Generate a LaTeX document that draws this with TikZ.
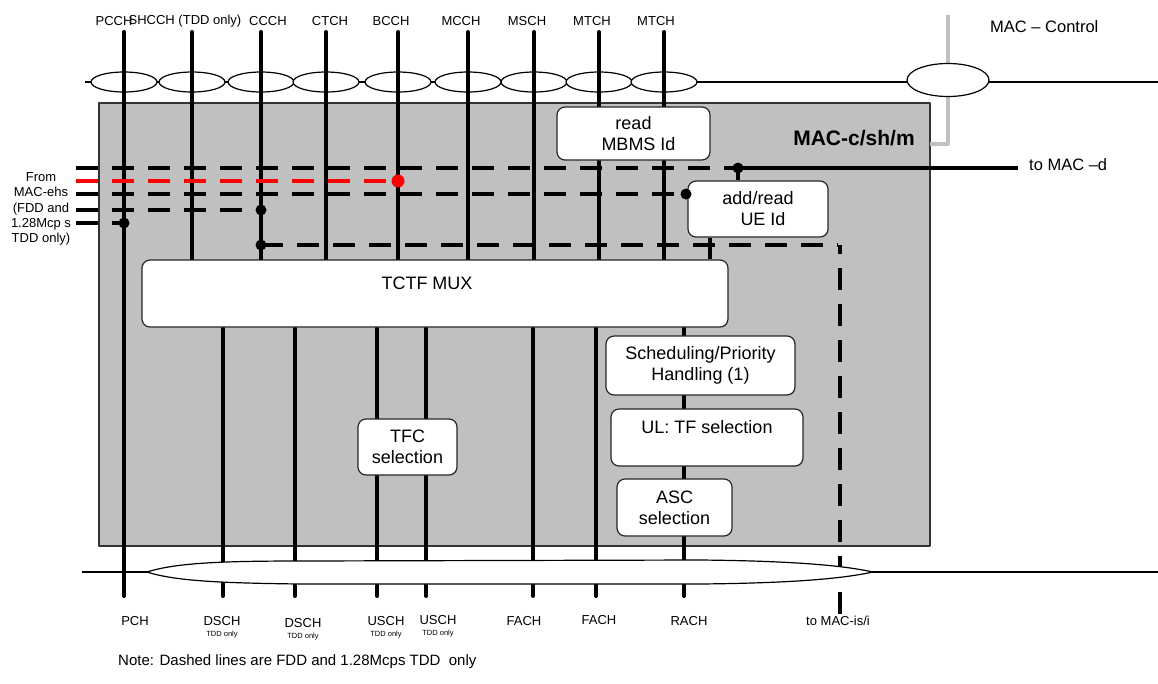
\documentclass[tikz,border=0pt]{standalone}
\usepackage{fontspec}
\setmainfont{Liberation Sans}
\usetikzlibrary{positioning,shapes.geometric}
\definecolor{macgrey}{RGB}{192,192,192}
\newcommand{\fsz}[2]{\fontsize{#1}{#2}\selectfont}
\tikzset{
  chan/.style={line width=4pt, line cap=round},
  dline/.style={line width=4.5pt, dash pattern=on 22pt off 14pt},
  bus/.style={line width=1.8pt},
  bubble/.style={draw, ellipse, fill=white, line width=1.2pt, inner sep=0pt},
  blk/.style={draw=black!85, fill=white, line width=1.2pt, rounded corners=8pt, inner sep=0pt, align=center, font=\fsz{18}{21}},
  txt/.style={inner sep=0pt, align=center, font=\fsz{18}{21}},
  lbl/.style={inner sep=0pt, font=\fsz{13}{15.3}},
  tddnote/.style={inner sep=0pt, font=\fsz{7.5}{8}},
}
\begin{document}
\begin{tikzpicture}[x=1pt, y=-1pt, line join=round]
\useasboundingbox (0,0) rectangle (1158,683);
% busses and the MAC-c/sh/m entity
\draw[bus] (85,82) -- (1158,82);
\draw[bus] (82,572) -- (1158,572);
\draw[draw=black!80, line width=1.2pt, fill=macgrey] (99,103) rectangle (930,546);
\draw[macgrey, line width=4pt] (948,15) -- (948,144) -- (930,144);
\foreach \x/\n in {124/pcch, 192/shcch, 261/ccch, 326/ctch, 398/bcch, 468/mcch, 534/msch, 599/mtcha, 664/mtchb}
  \node[bubble, minimum width=66pt, minimum height=20pt] (e-\n) at (\x,82) {};
\node[bubble, minimum width=82pt, minimum height=33pt] (e-ctrl) at (948,80) {};
% levels
\coordinate (muxtop) at (0,260);
\coordinate (muxbot) at (0,327);
\coordinate (chend) at (0,596);
% logical channels (top)
\foreach \x/\lx/\n/\t in {124/114/pcch/PCCH, 192/185/shcch/{SHCCH (TDD only)}, 261/268/ccch/CCCH, 326/330/ctch/CTCH, 398/391/bcch/BCCH, 468/461/mcch/MCCH, 534/527/msch/MSCH, 599/592/mtcha/MTCH, 664/656/mtchb/MTCH} {
  \coordinate (\n-top) at (\x,32);
  \node[lbl] (\n) at (\lx,21) {\t};
}
\foreach \n in {shcch, ccch, ctch, bcch, mcch, msch, mtcha, mtchb}
  \draw[chan] (\n-top) -- (\n-top |- muxtop);
\draw[chan] (pcch-top) -- (pcch-top |- chend);
% transport channels (bottom)
\foreach \x/\lx/\ly/\n/\t in {124/135/621/pch/PCH, 223/222/621/dscha/DSCH, 295/303/623/dschb/DSCH, 377/386/621/uscha/USCH, 426/438/620/uschb/USCH, 533/524/621/facha/FACH, 596/599/620/fachb/FACH, 684/689/621/rach/RACH} {
  \coordinate (\n-bot) at (\x,596);
  \node[lbl] (\n) at (\lx,\ly) {\t};
}
\foreach \n in {dscha, dschb, uscha, uschb, facha, fachb, rach}
  \draw[chan] (\n-bot |- muxbot) -- (\n-bot);
\foreach \n in {dscha, dschb, uscha, uschb}
  \node[tddnote, below=5pt of \n] (\n-tdd) {TDD only};
% MAC-ehs and MAC-d / MAC-is/i paths
\coordinate (j1) at (738,168);
\coordinate (jr) at (398,181);
\coordinate (j3) at (686,194);
\coordinate (j4) at (261,210);
\coordinate (j5) at (124,223);
\coordinate (j6) at (261,245);
\coordinate (k6) at (840,245);
\coordinate (macd-end) at (1018,168);
\coordinate (macis-end) at (840,614);
\draw[dline] (76,168) -- (j1);
\draw[dline, red] (76,181) -- (jr);
\draw[dline] (76,194) -- (j3);
\draw[dline] (76,210) -- (j4);
\draw[dline] (76,223) -- (j5);
\draw[dline] (j6) -- ([xshift=-2pt]k6);
\draw[dline] (macis-end) -- (k6);
\draw[chan, line cap=butt] (j1) -- (macd-end);
% functional blocks
\node[blk, minimum width=153pt, minimum height=53pt] (mbms) at (633.5,133.5) {read\\\ \ MBMS Id};
\node[blk, minimum width=140pt, minimum height=56pt] (ueid) at (758,209) {add/read\\\ \ UE Id};
\node[blk, minimum width=586pt, minimum height=67pt] (tctf) at (435,293.5) {};
\node[txt] (tctf-t) at (427,283) {TCTF MUX};
\node[blk, minimum width=189pt, minimum height=59pt] (sched) at (700.5,365.5) {Scheduling/Priority\\Handling (1)};
\node[blk, minimum width=192pt, minimum height=57pt] (ulsel) at (707,437.5) {};
\node[txt] (ulsel-t) at (707,427) {UL: TF selection};
\node[blk, minimum width=115pt, minimum height=57pt] (ascsel) at (674.5,507.5) {ASC\\selection};
\node[blk, minimum width=99pt, minimum height=56pt] (tfcsel) at (407.5,447) {TFC\\selection};
\coordinate (u1) at (710,0);
\draw[chan, line cap=butt] (j1) -- (j1 |- ueid.north);
\draw[chan, line cap=butt] (ueid.south -| u1) -- (tctf.north -| u1);
% transport channel bundle
\draw[line width=1.2pt, fill=white] (147,572) .. controls (175,563) and (220,561) .. (300,561) -- (700,560) .. controls (800,561) and (845,566) .. (873,572) .. controls (845,578) and (800,583) .. (700,584) -- (300,584) .. controls (220,583) and (175,581) .. cycle;
\foreach \p in {j1, j3, j4, j5, j6} {
  \fill (\p) circle (5.5pt);
}
\fill[red] (jr) circle (6.5pt);
% labels
\node[lbl, align=center] (ehs) at (41,209) {From\\MAC-ehs\\(FDD and\\1.28Mcp s\\TDD only)};
\node[lbl, font=\fsz{16.5}{19}, anchor=west] (mctrl) at (990,27) {MAC – Control};
\node[lbl, font=\fsz{16.5}{19}, anchor=west] (macd) at (1029,165) {to MAC –d};
\node[font=\fsz{21}{24}\bfseries] (macc) at (854,138) {MAC-c/sh/m};
\node[lbl] (macis) at (838,621) {to MAC-is/i};
\node[font=\fsz{15}{17}, anchor=west, inner sep=0pt] (note) at (118,662) {Note: Dashed lines are FDD and 1.28Mcps TDD\ \ only};
\end{tikzpicture}
\end{document}
